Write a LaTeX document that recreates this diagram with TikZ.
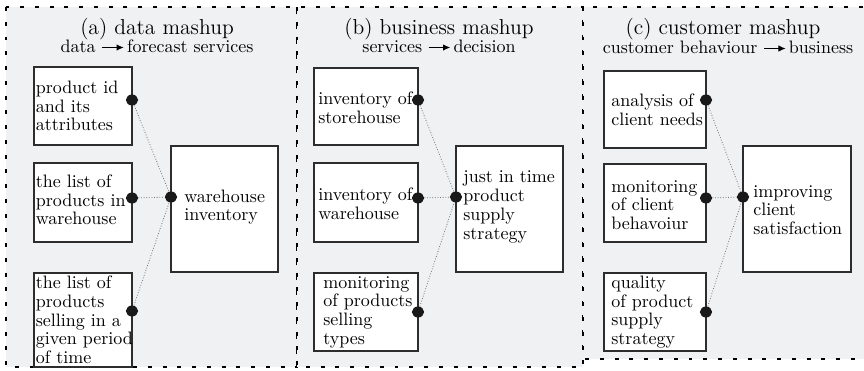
\documentclass[tikz,border=0pt]{standalone}
\usetikzlibrary{fit,arrows.meta,shapes.geometric}
\definecolor{panelbg}{RGB}{240,241,243}
\definecolor{boxline}{RGB}{45,45,45}
\newcommand{\mysubarrow}{\tikz[baseline=-2.5pt]\draw[line width=0.6pt,-{Latex[length=4pt,width=3.6pt]}] (0pt,0pt)--(12pt,0pt);}
\begin{document}
\begin{tikzpicture}[x=0.5556pt,y=-0.5556pt,
  panel/.style={draw=black, fill=panelbg, line width=0.8pt, dash pattern=on 2.2pt off 6pt},
  box/.style={draw=boxline, fill=white, line width=0.6pt, inner sep=0pt},
  txt/.style={anchor=west, align=left, inner sep=0pt, font=\fontsize{10}{10.4}\selectfont},
  ttl/.style={anchor=base, font=\large, inner sep=0pt},
  sub/.style={anchor=base, inner sep=0pt},
  dot/.style={ellipse, fill=black!90, minimum width=6.8pt, minimum height=6.1pt, inner sep=0pt},
  conn/.style={draw=black!55, line width=0.45pt, densely dotted}
]
\clip (0,0) rectangle (864,370);
\fill[white] (0,0) rectangle (864,370);
% panels
\draw[panel] (6,7) rectangle (297,367);
\draw[panel] (297,7) rectangle (583,367);
\draw[panel] (583,7) rectangle (880,359);

% titles
\node[ttl] (ta) at (157,34) {(a) data mashup};
\node[sub] (sa) at (157,52) {data \mysubarrow\hspace{1.5pt}forecast services};
\node[ttl] (tb) at (439,34) {(b) business mashup};
\node[sub] (sb) at (439,52) {services \mysubarrow\hspace{1.5pt}decision};
\node[ttl] (tc) at (723,34) {(c) customer mashup};
\node[sub] (sc) at (728,53) {customer behaviour \mysubarrow\hspace{1.5pt}business};

% panel (a)
\node[box, fit={(34,67)(132,145)}] (a1) {};
\node[box, fit={(34,163)(132,242)}] (a2) {};
\node[box, fit={(34,273)(132,367)}] (a3) {};
\node[box, fit={(171,146)(278,272)}] (a4) {};
\node[txt] (a1t) at (35.5,106) {product id\\and its\\attributes};
\node[txt] (a2t) at (35.5,200) {the list of\\products in\\warehouse};
\node[txt] (a3t) at (35.5,320) {the list of\\products\\selling in a\\given period\\of time};
\node[txt] (a4t) at (184,207) {warehouse\\inventory};
\node[dot] (a1d) at (132,100) {};
\node[dot] (a2d) at (132,198) {};
\node[dot] (a3d) at (132,311) {};
\node[dot] (ah) at (171,197) {};
\draw[conn] (a1d) -- (ah);
\draw[conn] (a2d) -- (ah);
\draw[conn] (a3d) -- (ah);

% panel (b)
\node[box, fit={(314,68)(418,145)}] (b1) {};
\node[box, fit={(314,163)(418,242)}] (b2) {};
\node[box, fit={(314,273)(418,351)}] (b3) {};
\node[box, fit={(456,146)(563,272)}] (b4) {};
\node[txt] (b1t) at (318,108) {inventory of\\storehouse};
\node[txt] (b2t) at (318,204) {inventory of\\warehouse};
\node[txt] (b3t) at (323,312) {monitoring\\of products\\selling\\types};
\node[txt] (b4t) at (463,207) {just in time\\product\\supply\\strategy};
\node[dot] (b1d) at (418,100) {};
\node[dot] (b2d) at (418,198) {};
\node[dot] (b3d) at (418,312) {};
\node[dot] (bh) at (456,197) {};
\draw[conn] (b1d) -- (bh);
\draw[conn] (b2d) -- (bh);
\draw[conn] (b3d) -- (bh);

% panel (c)
\node[box, fit={(604,71)(706,148)}] (c1) {};
\node[box, fit={(604,164)(706,242)}] (c2) {};
\node[box, fit={(604,273)(706,351)}] (c3) {};
\node[box, fit={(743,146)(851,272)}] (c4) {};
\node[txt] (c1t) at (611,110) {analysis of\\client needs};
\node[txt] (c2t) at (611,205) {monitoring\\of client\\behavoiur};
\node[txt] (c3t) at (611,312) {quality\\of product\\supply\\strategy};
\node[txt] (c4t) at (753,210) {improving\\client\\satisfaction};
\node[dot] (c1d) at (706,100) {};
\node[dot] (c2d) at (706,198) {};
\node[dot] (c3d) at (706,312) {};
\node[dot] (ch) at (743,197) {};
\draw[conn] (c1d) -- (ch);
\draw[conn] (c2d) -- (ch);
\draw[conn] (c3d) -- (ch);
\end{tikzpicture}
\end{document}
